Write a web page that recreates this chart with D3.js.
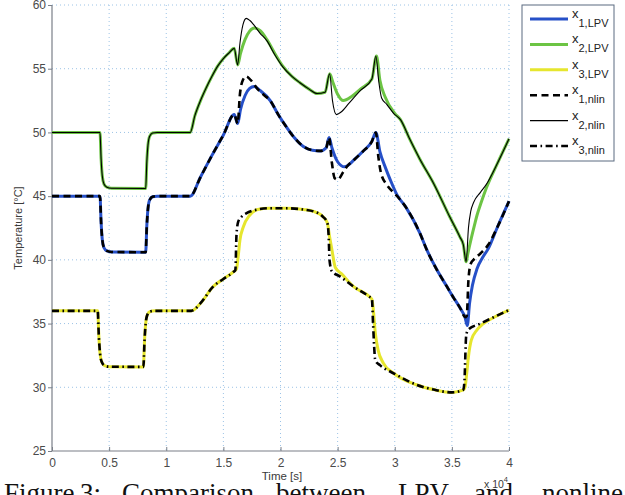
<!DOCTYPE html>
<html>
<head>
<meta charset="utf-8">
<script src="https://cdn.jsdelivr.net/npm/d3@7"></script>
<style>
  html, body { margin: 0; padding: 0; background: #fff; }
  svg { display: block; }
</style>
</head>
<body>
<svg id="chart" width="625" height="495"></svg>
<script>
// Time axis in units of 1e4 s, temperatures in °C
const xTicks = [0, 0.5, 1, 1.5, 2, 2.5, 3, 3.5, 4];
const yTicks = [25, 30, 35, 40, 45, 50, 55, 60];

// x1, LPV model
const tX1Lpv = [0, 0.42, 0.43, 0.44, 0.455, 0.48, 0.52, 0.82, 0.83, 0.84, 0.855, 0.88, 0.92, 1.21, 1.3, 1.4, 1.5, 1.595, 1.625, 1.65, 1.69, 1.73, 1.77, 1.82, 1.91, 1.98, 2.05, 2.12, 2.2, 2.28, 2.35, 2.4, 2.425, 2.45, 2.5, 2.56, 2.65, 2.72, 2.8, 2.835, 2.87, 2.92, 2.96, 3.02, 3.1, 3.22, 3.28, 3.37, 3.45, 3.51, 3.58, 3.615, 3.635, 3.655, 3.68, 3.72, 3.77, 3.82, 3.9, 4.0];
const yX1Lpv = [45, 45, 42.9, 41.6, 40.95, 40.7, 40.62, 40.6, 42.7, 44.0, 44.7, 44.95, 45, 45, 46.5, 48.2, 49.8, 51.4, 50.7, 51.8, 52.9, 53.45, 53.6, 53.3, 52.5, 51.4, 50.45, 49.6, 48.9, 48.6, 48.55, 48.8, 49.6, 48.8, 47.7, 47.3, 47.9, 48.5, 49.3, 50.0, 48.5, 47.2, 46.3, 45.1, 44.1, 42.1, 40.8, 39.2, 38.0, 37.1, 36.1, 35.5, 34.85, 36.6, 38.0, 39.3, 40.2, 40.9, 42.6, 44.6];

// x2, LPV model
const tX2Lpv = [0, 0.42, 0.43, 0.44, 0.455, 0.48, 0.52, 0.82, 0.83, 0.84, 0.855, 0.88, 0.92, 1.21, 1.25, 1.3, 1.35, 1.4, 1.45, 1.5, 1.55, 1.595, 1.625, 1.65, 1.69, 1.73, 1.77, 1.82, 1.88, 1.95, 2.02, 2.1, 2.17, 2.25, 2.32, 2.39, 2.43, 2.46, 2.5, 2.55, 2.62, 2.7, 2.8, 2.84, 2.87, 2.915, 3.0, 3.05, 3.13, 3.22, 3.34, 3.48, 3.57, 3.6, 3.625, 3.64, 3.67, 3.7, 3.72, 3.76, 3.8, 3.9, 4.0];
const yX2Lpv = [50, 50, 47.9, 46.6, 45.95, 45.7, 45.62, 45.6, 47.7, 49.0, 49.7, 49.95, 50, 50, 51.3, 52.5, 53.5, 54.4, 55.2, 55.8, 56.25, 56.6, 55.3, 56.2, 57.3, 57.95, 58.2, 58.0, 57.3, 56.2, 55.2, 54.4, 53.9, 53.4, 53.05, 53.15, 54.6, 53.9, 53.0, 52.5, 52.8, 53.4, 54.2, 56.0, 54.1, 52.8, 51.5, 51.0, 49.5, 47.9, 46.0, 43.4, 41.8, 41.2, 39.85, 40.5, 41.7, 42.8, 43.5, 44.6, 45.6, 47.6, 49.5];

// x3, LPV model
const tX3Lpv = [0, 0.40, 0.41, 0.42, 0.435, 0.46, 0.5, 0.8, 0.81, 0.82, 0.835, 0.86, 0.9, 1.22, 1.3, 1.41, 1.5, 1.59, 1.615, 1.63, 1.645, 1.675, 1.73, 1.8, 1.9, 2.05, 2.2, 2.29, 2.37, 2.41, 2.43, 2.45, 2.48, 2.535, 2.64, 2.78, 2.8, 2.81, 2.83, 2.855, 2.9, 2.99, 3.19, 3.35, 3.5, 3.6, 3.615, 3.63, 3.645, 3.67, 3.72, 3.77, 3.85, 4.0];
const yX3Lpv = [36, 36, 34.0, 32.7, 32.0, 31.7, 31.62, 31.6, 33.7, 35.0, 35.7, 35.95, 36, 36, 36.6, 37.9, 38.5, 39.07, 39.3, 40.3, 41.55, 42.6, 43.5, 43.95, 44.05, 44.05, 43.95, 43.8, 43.4, 42.9, 41.8, 40.8, 39.4, 38.9, 37.9, 37.1, 36.9, 36.3, 34.25, 32.9, 31.9, 31.1, 30.2, 29.8, 29.6, 29.8, 30.0, 31.1, 32.4, 33.7, 34.5, 34.95, 35.4, 36.06];

// x1, nonlinear model
const tX1Nlin = [0, 0.42, 0.43, 0.44, 0.455, 0.48, 0.52, 0.82, 0.83, 0.84, 0.855, 0.88, 0.92, 1.21, 1.3, 1.4, 1.5, 1.595, 1.625, 1.645, 1.67, 1.7, 1.74, 1.8, 1.86, 1.91, 1.98, 2.05, 2.12, 2.2, 2.28, 2.35, 2.4, 2.425, 2.45, 2.475, 2.5, 2.55, 2.58, 2.65, 2.72, 2.8, 2.835, 2.855, 2.88, 2.93, 3.0, 3.05, 3.1, 3.22, 3.28, 3.37, 3.45, 3.51, 3.58, 3.615, 3.63, 3.645, 3.665, 3.7, 3.75, 3.82, 3.9, 4.0];
const yX1Nlin = [45, 45, 42.9, 41.6, 40.95, 40.7, 40.62, 40.6, 42.7, 44.0, 44.7, 44.95, 45, 45, 46.5, 48.2, 49.8, 51.4, 50.7, 53.0, 54.1, 54.4, 54.1, 53.4, 52.9, 52.5, 51.4, 50.45, 49.6, 48.9, 48.6, 48.55, 48.8, 49.6, 47.6, 46.4, 46.3, 46.9, 47.3, 47.9, 48.5, 49.3, 50.0, 48.2, 46.8, 45.9, 45.2, 44.7, 44.1, 42.1, 40.8, 39.2, 38.0, 37.1, 36.1, 35.5, 35.6, 38.4, 39.7, 40.1, 40.5, 41.2, 42.6, 44.6];

// x2, nonlinear model
const tX2Nlin = [0, 0.42, 0.43, 0.44, 0.455, 0.48, 0.52, 0.82, 0.83, 0.84, 0.855, 0.88, 0.92, 1.21, 1.25, 1.3, 1.35, 1.4, 1.45, 1.5, 1.55, 1.595, 1.625, 1.645, 1.67, 1.7, 1.73, 1.77, 1.82, 1.88, 1.95, 2.02, 2.1, 2.17, 2.25, 2.32, 2.39, 2.43, 2.455, 2.49, 2.53, 2.6, 2.7, 2.8, 2.835, 2.86, 2.885, 2.93, 2.99, 3.05, 3.13, 3.22, 3.34, 3.48, 3.57, 3.6, 3.625, 3.645, 3.665, 3.69, 3.75, 3.8, 3.9, 4.0];
const yX2Nlin = [50, 50, 47.9, 46.6, 45.95, 45.7, 45.62, 45.6, 47.7, 49.0, 49.7, 49.95, 50, 50, 51.3, 52.5, 53.5, 54.4, 55.2, 55.8, 56.25, 56.6, 55.3, 57.0, 58.4, 58.95, 58.8, 58.4, 57.8, 57.2, 56.1, 55.15, 54.4, 53.9, 53.4, 53.05, 53.15, 54.6, 52.5, 51.4, 51.6, 52.3, 53.3, 54.2, 56.0, 54.0, 52.7, 52.2, 51.5, 51.0, 49.5, 47.9, 46.0, 43.4, 41.8, 41.2, 39.85, 42.5, 43.8, 44.5, 45.3, 45.9, 47.6, 49.5];

// x3, nonlinear model
const tX3Nlin = [0, 0.40, 0.41, 0.42, 0.435, 0.46, 0.5, 0.8, 0.81, 0.82, 0.835, 0.86, 0.9, 1.22, 1.3, 1.41, 1.5, 1.59, 1.605, 1.615, 1.63, 1.66, 1.7, 1.8, 1.9, 2.05, 2.2, 2.29, 2.37, 2.41, 2.42, 2.43, 2.45, 2.52, 2.64, 2.78, 2.8, 2.81, 2.83, 2.87, 2.99, 3.19, 3.35, 3.5, 3.6, 3.61, 3.625, 3.64, 3.75, 4.0];
const yX3Nlin = [36, 36, 34.0, 32.7, 32.0, 31.7, 31.62, 31.6, 33.7, 35.0, 35.7, 35.95, 36, 36, 36.6, 37.9, 38.5, 39.07, 39.2, 42.0, 43.0, 43.4, 43.65, 43.95, 44.05, 44.05, 43.95, 43.8, 43.4, 42.9, 42.1, 39.9, 39.1, 38.7, 37.9, 37.1, 36.97, 35.0, 32.1, 31.74, 31.1, 30.2, 29.8, 29.6, 29.8, 30.5, 34.0, 34.5, 35.0, 36.06];

const seriesNames = ["1,LPV", "2,LPV", "3,LPV", "1,nlin", "2,nlin", "3,nlin"];

const series = [
  { name: seriesNames[0], t: tX1Lpv, y: yX1Lpv, color: "#2650c8", width: 3,   dash: null },
  { name: seriesNames[1], t: tX2Lpv, y: yX2Lpv, color: "#6cc444", width: 3,   dash: null },
  { name: seriesNames[2], t: tX3Lpv, y: yX3Lpv, color: "#e6e62e", width: 3,   dash: null },
  { name: seriesNames[3], t: tX1Nlin, y: yX1Nlin, color: "#000", width: 2.6, dash: "7,4.5" },
  { name: seriesNames[4], t: tX2Nlin, y: yX2Nlin, color: "#000", width: 1.1, dash: null },
  { name: seriesNames[5], t: tX3Nlin, y: yX3Nlin, color: "#000", width: 2.6, dash: "7,3.5,1.6,3.5" }
];

const svg = d3.select("#chart");
const plotLeft = 52, plotRight = 509, plotTop = 5, plotBottom = 451;

const x = d3.scaleLinear().domain([0, 4]).range([plotLeft, plotRight]);
const y = d3.scaleLinear().domain([25, 60]).range([plotBottom, plotTop]);

const font = "'Liberation Sans', Arial, sans-serif";

// dotted grid
const grid = svg.append("g").attr("stroke", "#9cc3e6").attr("stroke-width", 1)
  .attr("stroke-dasharray", "1,3");
grid.selectAll("line.gx").data(xTicks.filter(d => d > 0)).join("line")
  .attr("x1", d => x(d)).attr("x2", d => x(d))
  .attr("y1", plotTop).attr("y2", plotBottom);
grid.selectAll("line.gy").data(yTicks.filter(d => d > 25)).join("line")
  .attr("x1", plotLeft).attr("x2", plotRight)
  .attr("y1", d => y(d)).attr("y2", d => y(d));

// axes (left and bottom only)
const axisColor = "#7a7f88";
const yAxis = svg.append("g").attr("transform", `translate(${plotLeft},0)`)
  .call(d3.axisLeft(y).tickValues(yTicks).tickSize(4).tickPadding(2).tickFormat(d3.format("d")));
const xAxis = svg.append("g").attr("transform", `translate(0,${plotBottom})`)
  .call(d3.axisBottom(x).tickValues(xTicks).tickSize(-4).tickPadding(7).tickFormat(d => String(d)));
[yAxis, xAxis].forEach(a => {
  a.select(".domain").attr("stroke", axisColor).attr("stroke-width", 1.2);
  a.selectAll(".tick line").attr("stroke", axisColor);
  a.selectAll(".tick text").attr("fill", "#4a4a4a").style("font-family", font).style("font-size", "12px");
});
yAxis.select(".domain").attr("d", `M0,${plotTop}V${plotBottom}`);
xAxis.select(".domain").attr("d", `M${plotLeft},0H${plotRight}`);

// curves: LPV first, nonlinear on top
const line = d3.line()
  .x(d => x(d[0])).y(d => y(d[1]))
  .curve(d3.curveMonotoneX);

const plot = svg.append("g");
series.forEach(s => {
  const pts = s.t.map((tv, i) => [tv, s.y[i]]);
  plot.append("path")
    .datum(pts)
    .attr("d", line)
    .attr("fill", "none")
    .attr("stroke", s.color)
    .attr("stroke-width", s.width)
    .attr("stroke-linejoin", "round")
    .attr("stroke-dasharray", s.dash);
});

// axis titles
svg.append("text")
  .attr("transform", "translate(22,228) rotate(-90)")
  .attr("text-anchor", "middle")
  .style("font-family", font).style("font-size", "11px").attr("fill", "#3a3a3a")
  .text("Temperature [°C]");
svg.append("text")
  .attr("x", 282).attr("y", 480)
  .attr("text-anchor", "middle")
  .style("font-family", font).style("font-size", "11.5px").attr("fill", "#3a3a3a")
  .text("Time [s]");
const mult = svg.append("text")
  .attr("x", 484).attr("y", 488)
  .style("font-family", font).style("font-size", "10.5px").attr("fill", "#3a3a3a");
mult.append("tspan").text("x 10");
mult.append("tspan").attr("dy", -6).style("font-size", "7.5px").text("4");

// legend
const lg = svg.append("g");
lg.append("rect")
  .attr("x", 522).attr("y", 5).attr("width", 92).attr("height", 156)
  .attr("fill", "#fff").attr("stroke", "#5b6b80").attr("stroke-width", 1);
series.forEach((s, i) => {
  const cy = 19 + i * 25.4;
  lg.append("line")
    .attr("x1", 530).attr("x2", 568).attr("y1", cy).attr("y2", cy)
    .attr("stroke", s.color).attr("stroke-width", s.width)
    .attr("stroke-dasharray", s.dash);
  const tx = lg.append("text")
    .attr("x", 572).attr("y", cy - 1)
    .style("font-family", font).style("font-size", "13px").attr("fill", "#222");
  tx.append("tspan").text("x");
  tx.append("tspan").attr("dy", 9).style("font-size", "11px").text(s.name);
});

// figure caption below the axes
const captionWords = ["Figure", "3:", "Comparison", "between", "LPV", "and", "nonlinear"];
const captionX = [4, 80, 122, 276, 398, 474, 542];
const cap = svg.append("text").attr("y", 502)
  .style("font-family", "'Liberation Serif', 'Times New Roman', serif")
  .style("font-size", "27px").attr("fill", "#111");
captionWords.forEach((w, i) => cap.append("tspan").attr("x", captionX[i]).text(w));
</script>
</body>
</html>
